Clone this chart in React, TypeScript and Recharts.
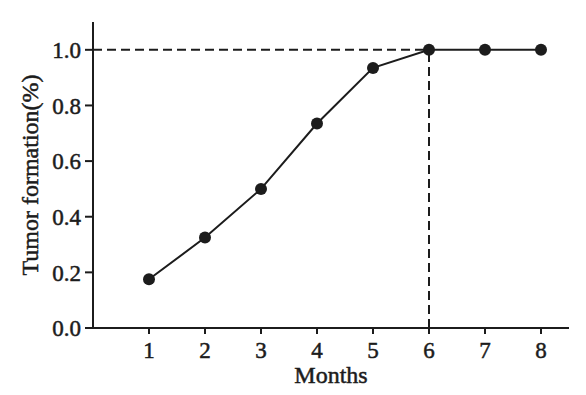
import { Line, LineChart, ReferenceLine, XAxis, YAxis } from 'recharts';

const MONTHS = [1, 2, 3, 4, 5, 6, 7, 8];
const FORMATION = [0.175, 0.325, 0.5, 0.735, 0.935, 1.0, 1.0, 1.0];
const Y_TICKS = [0, 0.2, 0.4, 0.6, 0.8, 1.0];
const PLATEAU = { month: 6, value: 1.0 };

const INK = '#1c1c1c';
const FONT = '"Liberation Serif", "Times New Roman", serif';

const data = MONTHS.map((m, i) => ({ month: m, value: FORMATION[i] }));

// slight outline so the regular face reads as the medium weight of the original
const tickStyle = { fill: INK, fontSize: 23, fontFamily: FONT, stroke: INK, strokeWidth: 0.5 };

export default function App() {
  return (
    <div style={{ position: 'absolute', left: 0, top: 0, background: '#fff' }}>
      <LineChart width={586} height={395} data={data} margin={{ top: 22, right: 17, bottom: 0, left: 0 }}>
        <XAxis
          type="number"
          dataKey="month"
          domain={[0, 8.5]}
          ticks={MONTHS}
          height={67}
          tickSize={6}
          tickMargin={8}
          tick={tickStyle}
          axisLine={{ stroke: INK, strokeWidth: 2 }}
          tickLine={{ stroke: INK, strokeWidth: 2 }}
          label={{
            value: 'Months',
            position: 'insideBottom',
            offset: 12,
            fill: INK,
            stroke: INK,
            strokeWidth: 0.5,
            fontSize: 24,
            fontFamily: FONT,
          }}
        />
        <YAxis
          type="number"
          domain={[0, 1.1]}
          ticks={Y_TICKS}
          width={93}
          tickSize={8}
          tickMargin={4}
          tick={tickStyle}
          tickFormatter={(v: number) => v.toFixed(1)}
          axisLine={{ stroke: INK, strokeWidth: 2 }}
          tickLine={{ stroke: INK, strokeWidth: 2 }}
          label={{
            content: ({ viewBox }: any) => {
              const cx = 38;
              const cy = viewBox.y + viewBox.height / 2;
              return (
                <text
                  x={cx}
                  y={cy}
                  transform={`rotate(-90, ${cx}, ${cy})`}
                  textAnchor="middle"
                  fill={INK}
                  stroke={INK}
                  strokeWidth={0.5}
                  fontSize={24}
                  fontFamily={FONT}
                >
                  Tumor formation(%)
                </text>
              );
            },
          }}
        />
        <ReferenceLine
          segment={[{ x: 0, y: PLATEAU.value }, { x: PLATEAU.month, y: PLATEAU.value }]}
          stroke={INK}
          strokeWidth={2}
          strokeDasharray="9 5"
        />
        <ReferenceLine
          segment={[{ x: PLATEAU.month, y: 0 }, { x: PLATEAU.month, y: PLATEAU.value }]}
          stroke={INK}
          strokeWidth={2}
          strokeDasharray="9 5"
        />
        <Line
          type="linear"
          dataKey="value"
          stroke={INK}
          strokeWidth={2}
          dot={{ r: 6, fill: INK, stroke: INK, strokeWidth: 0 }}
          activeDot={false}
          isAnimationActive={false}
        />
      </LineChart>
    </div>
  );
}
